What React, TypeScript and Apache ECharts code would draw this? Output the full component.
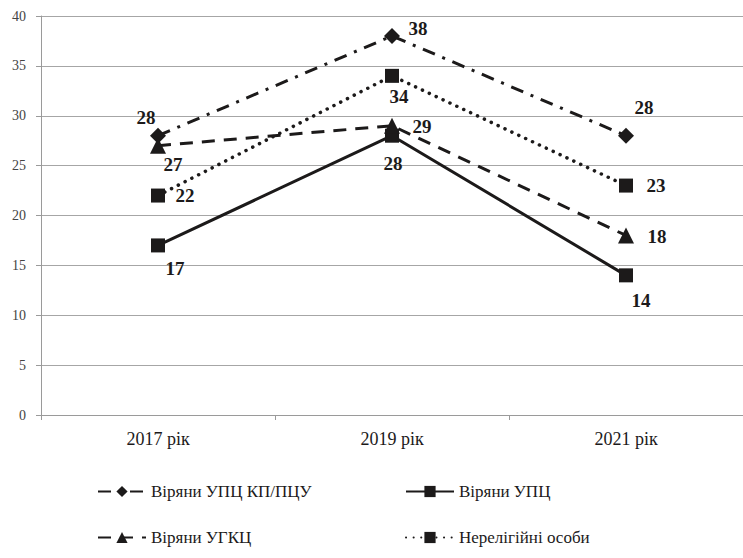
import React, { useEffect, useRef } from "react";
import * as echarts from "echarts";

const categories = ["2017 рік", "2019 рік", "2021 рік"];
const seriesNames = ["Віряни УПЦ КП/ПЦУ", "Віряни УПЦ", "Віряни УГКЦ", "Нерелігійні особи"];
const kpPcuValues = [28, 38, 28];
const upcValues = [17, 28, 14];
const ugkcValues = [27, 29, 18];
const nonReligiousValues = [22, 34, 23];
const yTicks = { min: 0, max: 40, interval: 5 };

const FONT = "'Liberation Serif', 'Times New Roman', serif";
const INK = "#1c1a1a";

const labelOffsets: number[][][] = [
  [[-12, -18], [26, -7], [18, -28]],
  [[17, 23], [1, 28], [15, 25]],
  [[15, 19], [30, 1], [31, 1]],
  [[27, 0], [7, 21], [30, 0]],
];

function mkData(values: number[], si: number) {
  return values.map((v, i) => ({
    value: v,
    label: { offset: labelOffsets[si][i] },
  }));
}

export default function App() {
  const ref = useRef<HTMLDivElement>(null);
  useEffect(() => {
    const chart = echarts.init(ref.current!, undefined, { renderer: "svg" });
    const baseLabel = {
      show: true,
      position: "inside" as const,
      fontFamily: FONT,
      fontWeight: "bold" as const,
      fontSize: 19,
      color: INK,
    };
    const legendBase = {
      itemWidth: 48,
      itemHeight: 14,
      padding: 0,
      textStyle: { fontFamily: FONT, fontSize: 17, color: INK },
      selectedMode: false,
    };
    chart.setOption({
      animation: false,
      backgroundColor: "#ffffff",
      textStyle: { fontFamily: FONT },
      grid: { left: 41, top: 16, width: 705, height: 399, containLabel: false },
      xAxis: {
        type: "category",
        data: categories,
        boundaryGap: true,
        axisLine: { show: true, lineStyle: { color: "#9a9a9a", width: 1 } },
        axisTick: { show: true, length: 5, lineStyle: { color: "#9a9a9a" } },
        axisLabel: { fontFamily: FONT, fontSize: 18, color: INK, margin: 15 },
        splitLine: { show: false },
      },
      yAxis: {
        type: "value",
        min: yTicks.min,
        max: yTicks.max,
        interval: yTicks.interval,
        axisLine: { show: true, lineStyle: { color: "#9a9a9a", width: 1 } },
        axisTick: { show: true, length: 5, lineStyle: { color: "#9a9a9a" } },
        axisLabel: { fontFamily: FONT, fontSize: 14, color: "#444", margin: 15 },
        splitLine: { show: true, lineStyle: { color: "#a6a6a6", width: 1 } },
      },
      legend: [
        { ...legendBase, data: [seriesNames[0]], left: 97, top: 483 },
        { ...legendBase, data: [seriesNames[1]], left: 405, top: 483 },
        { ...legendBase, data: [seriesNames[2]], left: 97, top: 529 },
        { ...legendBase, data: [seriesNames[3]], left: 405, top: 529 },
      ],
      series: [
        {
          name: seriesNames[0],
          type: "line",
          data: mkData(kpPcuValues, 0),
          symbol: "diamond",
          symbolSize: 16,
          itemStyle: { color: INK },
          lineStyle: { color: INK, width: 3, type: [13, 8, 3, 8] },
          label: baseLabel,
        },
        {
          name: seriesNames[1],
          type: "line",
          data: mkData(upcValues, 1),
          symbol: "rect",
          symbolSize: 14,
          itemStyle: { color: INK },
          lineStyle: { color: INK, width: 3, type: "solid" },
          label: baseLabel,
        },
        {
          name: seriesNames[2],
          type: "line",
          data: mkData(ugkcValues, 2),
          symbol: "triangle",
          symbolSize: 16,
          itemStyle: { color: INK },
          lineStyle: { color: INK, width: 3, type: [13, 9] },
          label: baseLabel,
        },
        {
          name: seriesNames[3],
          type: "line",
          data: mkData(nonReligiousValues, 3),
          symbol: "rect",
          symbolSize: 14,
          itemStyle: { color: INK },
          lineStyle: { color: INK, width: 3.5, type: [0.1, 7.5], cap: "round" },
          label: baseLabel,
        },
      ],
    });
    return () => chart.dispose();
  }, []);
  return <div ref={ref} style={{ width: 743, height: 558, position: "absolute", left: 0, top: 0 }} />;
}
